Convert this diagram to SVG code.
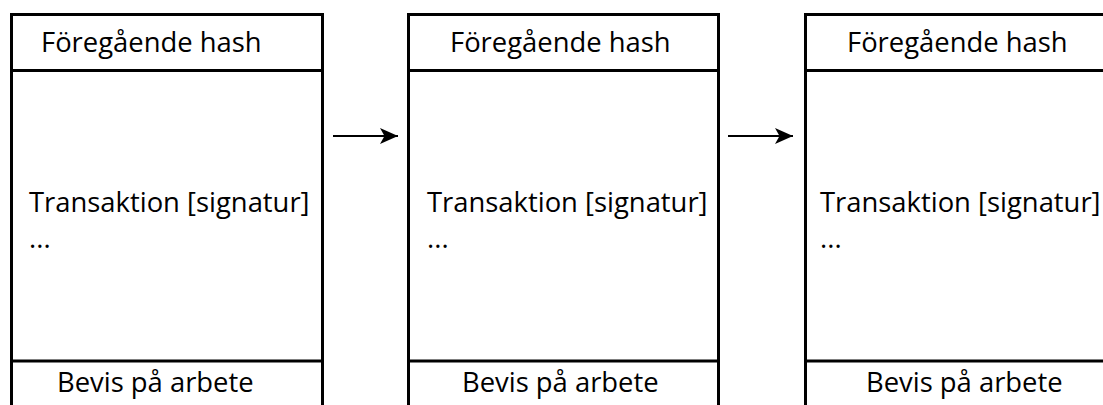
<svg xmlns="http://www.w3.org/2000/svg" width="1103" height="405" viewBox="0 0 1103 405">
<defs>
<style>
.box{fill:#fff;stroke:#000;stroke-width:3}
.div{stroke:#000;stroke-width:3}
.t{font-family:"Open Sans","Noto Sans",sans-serif;font-size:27.4px;fill:#000}
.conn{stroke:#000;stroke-width:2;fill:none}
</style>
<marker id="ah" markerWidth="20" markerHeight="18" refX="18" refY="9" orient="auto" markerUnits="userSpaceOnUse">
<path d="M0,1 L18,9 L0,17 L4.5,9 Z" fill="#000"/>
</marker>
</defs>
<rect width="1103" height="405" fill="#fff"/>
<g id="block1">
<rect class="box" x="11.5" y="14.5" width="311" height="400"/>
<line class="div" x1="11.5" y1="70.5" x2="322.5" y2="70.5"/>
<line class="div" x1="11.5" y1="361" x2="322.5" y2="361"/>
<text class="t" x="41" y="52">Föregående hash</text>
<text class="t" x="29" y="212">Transaktion [signatur]</text>
<text class="t" x="29" y="248">...</text>
<text class="t" x="57" y="392">Bevis på arbete</text>
</g>
<g id="block2">
<rect class="box" x="408.5" y="14.5" width="310" height="400"/>
<line class="div" x1="408.5" y1="70.5" x2="718.5" y2="70.5"/>
<line class="div" x1="408.5" y1="361" x2="718.5" y2="361"/>
<text class="t" x="450" y="52">Föregående hash</text>
<text class="t" x="427" y="212">Transaktion [signatur]</text>
<text class="t" x="427" y="248">...</text>
<text class="t" x="462" y="392">Bevis på arbete</text>
</g>
<g id="block3">
<rect class="box" x="805.5" y="14.5" width="312" height="400"/>
<line class="div" x1="805.5" y1="70.5" x2="1110" y2="70.5"/>
<line class="div" x1="805.5" y1="361" x2="1110" y2="361"/>
<text class="t" x="847" y="52">Föregående hash</text>
<text class="t" x="820" y="212">Transaktion [signatur]</text>
<text class="t" x="820" y="248">...</text>
<text class="t" x="866" y="392">Bevis på arbete</text>
</g>
<g id="connectors">
<line class="conn" x1="333" y1="136" x2="398" y2="136" marker-end="url(#ah)"/>
<line class="conn" x1="728" y1="136" x2="793" y2="136" marker-end="url(#ah)"/>
</g>
</svg>
